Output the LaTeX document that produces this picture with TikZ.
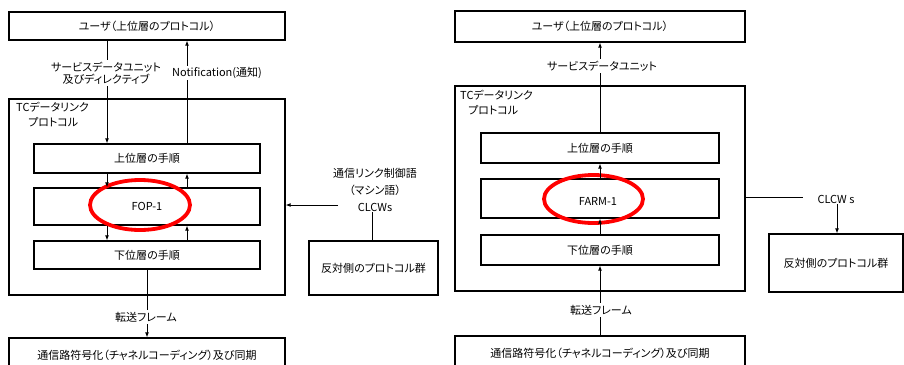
\documentclass[tikz,border=0pt]{standalone}
\usepackage{fontspec}
\setmainfont{Noto Sans CJK JP}[RawFeature={+palt}]
\usetikzlibrary{arrows.meta,shapes.geometric}
\begin{document}
\begin{tikzpicture}[x=1pt,y=-1pt,
  box/.style={draw,line width=1.3pt,minimum width=#1,inner sep=0pt,font=\fontsize{11}{13}\selectfont},
  lbl/.style={fill=white,inner sep=1.5pt,font=\fontsize{11}{14}\selectfont,align=center},
  txt/.style={inner sep=0pt,font=\fontsize{11}{15}\selectfont,align=left},
  arr/.style={line width=0.9pt,-{Latex[length=5pt,width=4pt]}},
  ln/.style={line width=0.9pt},
  redell/.style={ellipse,draw=red,line width=3.8pt,inner sep=0pt}]
\clip (0,0) rectangle (904,364);
\fill[white] (0,0) rectangle (904,364);
% ---------- left panel ----------
\node[box=276pt,minimum height=28pt] (uL) at (147,26) {ユーザ（上位層のプロトコル）};
\node[box=276pt,minimum height=196pt] (tcL) at (147,197) {};
\node[txt,anchor=north west] (tcLt) at (16,102) {TCデータリンク\\\hspace*{12pt}プロトコル};
\node[box=226pt,minimum height=29pt] (upL) at (147,158.5) {上位層の手順};
\node[box=226pt,minimum height=37pt] (fopL) at (147,206.5) {FOP-1};
\node[box=226pt,minimum height=28pt] (loL) at (147,255) {下位層の手順};
\node[box=276pt,minimum height=34pt] (botL) at (147,355) {通信路符号化（チャネルコーディング）及び同期};
\node[box=129pt,minimum height=54pt] (oppL) at (373.5,268) {反対側のプロトコル群};
\node[redell,minimum width=100pt,minimum height=50pt] (eL) at (140,205) {};
\coordinate (xa) at (107,0);
\coordinate (xb) at (187,0);
\coordinate (xc) at (147,0);
\coordinate (xd) at (372,0);
\draw[arr] (uL.south -| xa) -- (upL.north -| xa);
\draw[arr] (upL.north -| xb) -- (uL.south -| xb);
\draw[arr] (upL.south -| xa) -- (fopL.north -| xa);
\draw[arr] (fopL.north -| xb) -- (upL.south -| xb);
\draw[arr] (fopL.south -| xa) -- (loL.north -| xa);
\draw[arr] (loL.north -| xb) -- (fopL.south -| xb);
\draw[arr] (loL.south -| xc) -- (botL.north -| xc);
\node[lbl] (sduL) at (106,73) {サービスデータユニット\\[-2pt]及びディレクティブ};
\node[lbl] (notL) at (217,73) {Notification(通知)};
\node[lbl] (tfL) at (146,317) {転送フレーム};
\node[txt,align=center,font=\fontsize{11}{17}\selectfont] (clL) at (375,190) {通信リンク制御語\\（マシン語）\\CLCWs};
\coordinate (clLa) at (338,205);
\draw[ln] (oppL.north -| xd) -- (clL.south -| xd);
\draw[arr] (clLa) -- (clLa -| tcL.east);
% ---------- right panel ----------
\node[box=290pt,minimum height=31pt] (uR) at (600,26.5) {ユーザ（上位層のプロトコル）};
\node[box=290pt,minimum height=205pt] (tcR) at (600,188.5) {};
\node[txt,anchor=north west] (tcRt) at (460,90) {TCデータリンク\\\hspace*{8pt}プロトコル};
\node[box=238pt,minimum height=30pt] (upR) at (600,148) {上位層の手順};
\node[box=238pt,minimum height=39pt] (farmR) at (600,198.5) {};
\node[inner sep=0pt,font=\fontsize{11}{13}\selectfont] (farmt) at (598,201) {FARM-1};
\node[box=238pt,minimum height=30pt] (loR) at (600,250) {下位層の手順};
\node[box=290pt,minimum height=34pt] (botR) at (600,353) {通信路符号化（チャネルコーディング）及び同期};
\node[box=134pt,minimum height=58pt] (oppR) at (836,263) {反対側のプロトコル群};
\node[redell,minimum width=99pt,minimum height=48pt] (eR) at (593.5,199) {};
\coordinate (xe) at (600,0);
\coordinate (xf) at (837,0);
\draw[arr] (upR.north -| xe) -- (uR.south -| xe);
\draw[arr] (farmR.north -| xe) -- (upR.south -| xe);
\draw[arr] (loR.north -| xe) -- (farmR.south -| xe);
\draw[arr] (botR.north -| xe) -- (loR.south -| xe);
\node[lbl] (sduR) at (602,66) {サービスデータユニット};
\node[lbl] (tfR) at (601,310) {転送フレーム};
\node[inner sep=1pt,font=\fontsize{11}{13}\selectfont] (clR) at (836,199) {CLCW s};
\coordinate (clRa) at (803,197);
\draw[ln] (clRa -| tcR.east) -- (clRa);
\draw[arr] (clR.south -| xf) -- (oppR.north -| xf);
\end{tikzpicture}
\end{document}
